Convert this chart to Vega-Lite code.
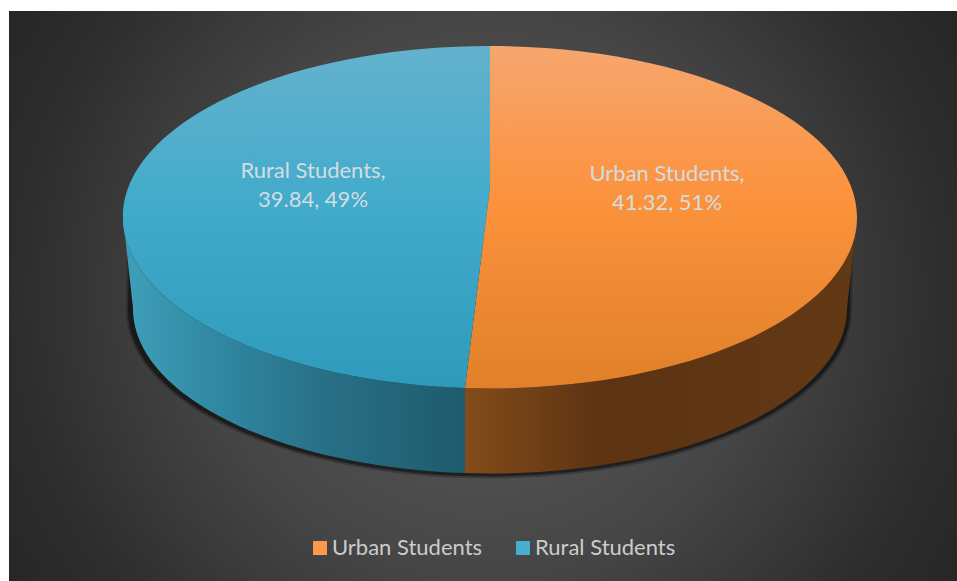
{
"$schema":"https://vega.github.io/schema/vega-lite/v6.json",
"width":948,"height":570,
"autosize":{"type":"none"},
"padding":{"left":9,"top":11,"right":0,"bottom":0},
"background":"#ffffff",
"config":{"view":{"stroke":null}},
"data":{"values":[
{"category":"Urban Students","value":41.32,"percent":51,"label":"Urban Students,\n41.32, 51%"},
{"category":"Rural Students","value":39.84,"percent":49,"label":"Rural Students,\n39.84, 49%"}
]},
"layer":[
{"transform":[{"aggregate":[{"op":"count","as":"n"}]}],
 "mark":{"type":"point","clip":true,"filled":true,"opacity":1,"size":4,"shape":"M-474,-474H474V474H-474Z",
  "fill":{"gradient":"radial","x1":0.5,"y1":0.5,"r1":0,"x2":0.5,"y2":0.5,"r2":0.6,"stops":[{"offset":0,"color":"#565656"},{"offset":0.32,"color":"#4e4e4e"},{"offset":0.5,"color":"#454545"},{"offset":0.82,"color":"#2d2d2d"},{"offset":1,"color":"#252525"}]}},
 "encoding":{}},
{"transform":[{"aggregate":[{"op":"count","as":"n"}]}],
 "mark":{"type":"point","filled":true,"size":4,"opacity":0.22,"fill":"#000000","stroke":"#000000","strokeWidth":8,"shape":"M-352,-45L-353,14A358,164 0 0 0 365,14L366,-45Z"},
 "encoding":{}},
{"transform":[{"aggregate":[{"op":"count","as":"n"}]}],
 "mark":{"type":"point","filled":true,"size":4,"opacity":0.45,"fill":"#000000","stroke":"#000000","strokeWidth":4,"shape":"M-352,-45L-353,14A358,164 0 0 0 365,14L366,-45Z"},
 "encoding":{}},
{"transform":[{"filter":"datum.category === 'Rural Students'"}],
 "mark":{"type":"point","filled":true,"opacity":1,"size":4,"shape":"M-18,92A367,171 0 0 1 -360,-79L-350,12A357,165 0 0 0 -18,177Z",
  "fill":{"gradient":"linear","x1":0,"y1":0,"x2":1,"y2":0,"stops":[{"offset":0,"color":"#3f9fba"},{"offset":0.3,"color":"#2f86a0"},{"offset":0.6,"color":"#286f85"},{"offset":1,"color":"#1e5b6d"}]}},
 "encoding":{}},
{"transform":[{"filter":"datum.category === 'Urban Students'"}],
 "mark":{"type":"point","filled":true,"opacity":1,"size":4,"shape":"M-18,92A367,171 0 0 0 374,-79L364,12A357,165 0 0 1 -18,177Z",
  "fill":{"gradient":"linear","x1":0,"y1":0,"x2":1,"y2":0,"stops":[{"offset":0,"color":"#844b19"},{"offset":0.35,"color":"#5c3413"},{"offset":1,"color":"#633815"}]}},
 "encoding":{}},
{"mark":{"type":"point","filled":true,"opacity":1,"size":0,"shape":"square"},
 "encoding":{
  "color":{"field":"category","type":"nominal",
   "scale":{"domain":["Urban Students","Rural Students"],"range":["#fb9a4c","#49aecd"]},
   "legend":{"title":null,"orient":"none","legendX":300,"legendY":526,"direction":"horizontal","columns":2,"columnPadding":29,"symbolType":"square","symbolSize":196,"symbolStrokeWidth":0,"symbolOpacity":1,"labelColor":"#cccccc","labelFont":"Lato","labelFontSize":22,"labelOffset":1,"labelLimit":300}}
 }},
{"transform":[{"filter":"datum.category === 'Urban Students'"}],
 "mark":{"type":"point","filled":true,"opacity":1,"size":4,"shape":"M7,-250A367,171 0 0 1 374,-79A367,171 0 0 1 -18,92L7,-109Z",
  "fill":{"gradient":"linear","x1":0,"y1":0,"x2":0,"y2":1,"stops":[{"offset":0,"color":"#f6a66e"},{"offset":0.45,"color":"#fc923c"},{"offset":1,"color":"#e1802a"}]}},
 "encoding":{}},
{"transform":[{"filter":"datum.category === 'Rural Students'"}],
 "mark":{"type":"point","filled":true,"opacity":1,"size":4,"shape":"M7,-250A367,171 0 0 0 -360,-79A367,171 0 0 0 -18,92L7,-109Z",
  "fill":{"gradient":"linear","x1":0,"y1":0,"x2":0,"y2":1,"stops":[{"offset":0,"color":"#64b2cd"},{"offset":0.45,"color":"#43abcb"},{"offset":1,"color":"#2f9abb"}]}},
 "encoding":{}},
{"mark":{"type":"text","font":"Lato","fontSize":22,"lineHeight":29,"lineBreak":"\n","align":"center","baseline":"middle","fill":"#d3dde0"},
 "encoding":{
  "text":{"field":"label","type":"nominal"},
  "x":{"field":"category","type":"nominal","axis":null,"scale":{"type":"point","padding":0,"domain":["Urban Students","Rural Students"],"range":[658,304]}},
  "y":{"field":"category","type":"nominal","axis":null,"scale":{"type":"point","padding":0,"domain":["Urban Students","Rural Students"],"range":[163,160]}}
 }}
]
}
